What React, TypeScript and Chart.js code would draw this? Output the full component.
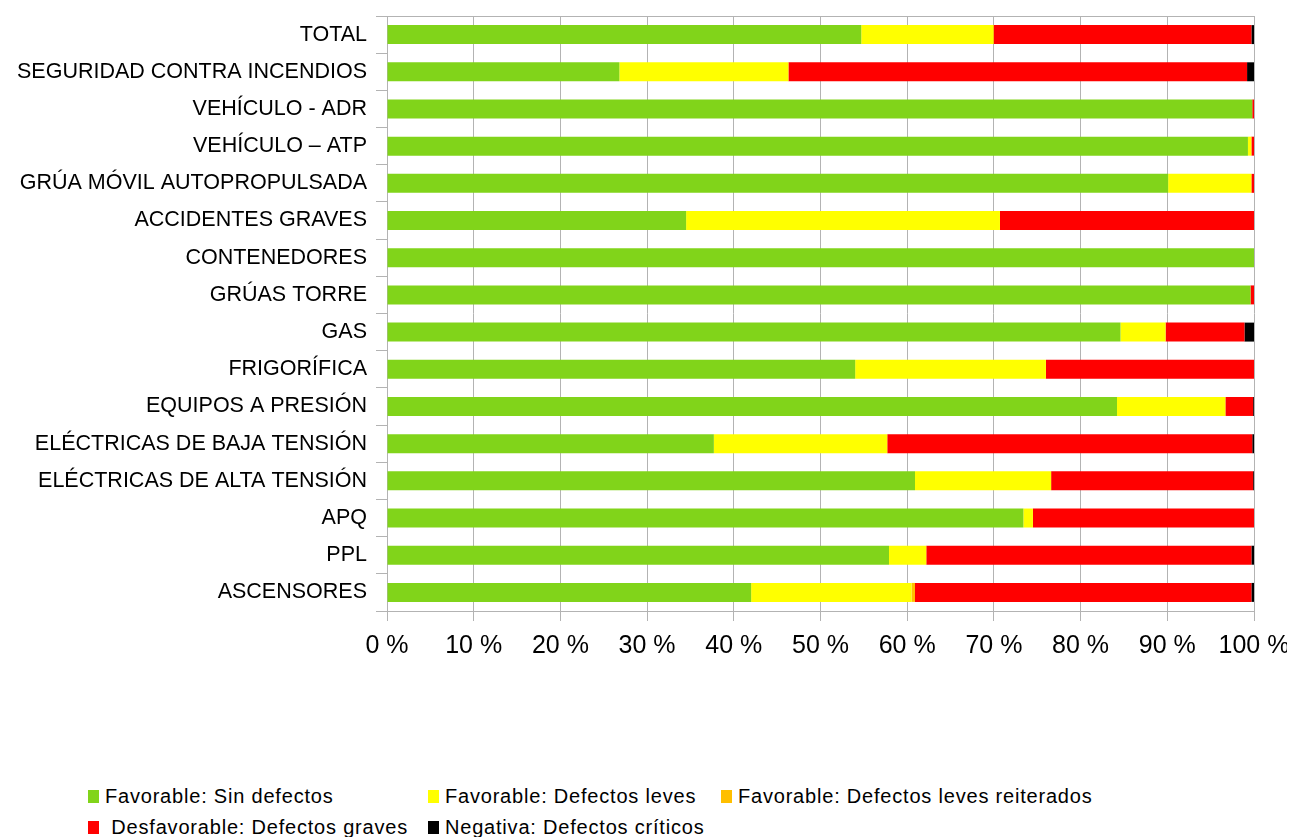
import React, { useEffect, useRef } from "react";
import { Chart, registerables } from "chart.js";

Chart.register(...registerables);

const categories = [
  "TOTAL",
  "SEGURIDAD CONTRA INCENDIOS",
  "VEHÍCULO - ADR",
  "VEHÍCULO – ATP",
  "GRÚA MÓVIL AUTOPROPULSADA",
  "ACCIDENTES GRAVES",
  "CONTENEDORES",
  "GRÚAS TORRE",
  "GAS",
  "FRIGORÍFICA",
  "EQUIPOS A PRESIÓN",
  "ELÉCTRICAS DE BAJA TENSIÓN",
  "ELÉCTRICAS DE ALTA TENSIÓN",
  "APQ",
  "PPL",
  "ASCENSORES",
];

const sinDefectos = [54.7, 26.8, 99.8, 99.3, 90.1, 34.5, 100, 99.6, 84.6, 54.0, 84.2, 37.7, 60.9, 73.4, 57.9, 42.0];
const defectosLeves = [15.2, 19.5, 0, 0.4, 9.6, 36.2, 0, 0, 5.2, 22.0, 12.5, 20.0, 15.7, 1.1, 4.3, 18.5];
const levesReiterados = [0.1, 0, 0, 0, 0, 0, 0, 0, 0, 0, 0, 0, 0, 0, 0, 0.4];
const defectosGraves = [29.7, 52.9, 0.2, 0.3, 0.3, 29.3, 0, 0.4, 9.1, 24.0, 3.2, 42.1, 23.3, 25.5, 37.5, 38.8];
const defectosCriticos = [0.3, 0.8, 0, 0, 0, 0, 0, 0, 1.1, 0, 0.1, 0.2, 0.1, 0, 0.3, 0.3];

const seriesLabels = [
  "Favorable: Sin defectos",
  "Favorable: Defectos leves",
  "Favorable: Defectos leves reiterados",
  " Desfavorable: Defectos graves",
  "Negativa: Defectos críticos",
];
const seriesColors = ["#81d41a", "#ffff00", "#ffbf00", "#ff0000", "#000000"];
const seriesValues = [sinDefectos, defectosLeves, levesReiterados, defectosGraves, defectosCriticos];

const xTickLabels = ["0 %", "10 %", "20 %", "30 %", "40 %", "50 %", "60 %", "70 %", "80 %", "90 %", "100 %"];

const FONT = "'Liberation Sans', Arial, sans-serif";
const GRID = "#b3b3b3";
const legendColumns = [80, 420, 713];

export default function App() {
  const ref = useRef<HTMLCanvasElement | null>(null);

  useEffect(() => {
    document.documentElement.style.overflow = "hidden";
    if (!ref.current) return;
    const chart = new Chart(ref.current, {
      type: "bar",
      data: {
        labels: categories,
        datasets: seriesValues.map((vals, i) => ({
          label: seriesLabels[i],
          data: vals,
          backgroundColor: seriesColors[i],
          borderWidth: 0,
          barPercentage: 0.51,
          categoryPercentage: 1,
        })),
      },
      options: {
        indexAxis: "y",
        responsive: false,
        animation: false,
        devicePixelRatio: 1,
        layout: { padding: { top: 8, right: 41, left: 0, bottom: 0 } },
        plugins: {
          legend: { display: false },
          tooltip: { enabled: false },
        },
        scales: {
          x: {
            stacked: true,
            min: 0,
            max: 100,
            ticks: {
              stepSize: 10,
              autoSkip: false,
              maxRotation: 0,
              padding: 10,
              color: "#000",
              font: { family: FONT, size: 25 },
              callback: (_v: any, i: number) => xTickLabels[i],
            },
            grid: { color: GRID, tickColor: GRID, tickLength: 10, lineWidth: 1 },
            border: { display: true, color: GRID },
            afterFit: (s: any) => {
              s.height = 60;
              s.paddingLeft = 0;
              s.paddingRight = 0;
            },
          },
          y: {
            stacked: true,
            ticks: {
              padding: 9,
              color: "#000",
              font: { family: FONT, size: 21.5 },
            },
            grid: {
              offset: true,
              drawOnChartArea: true,
              color: (ctx: any) =>
                ctx.index === 0 || ctx.index === undefined ? GRID : "rgba(0,0,0,0)",
              tickColor: GRID,
              tickLength: 11,
              lineWidth: 1,
            },
            border: { display: true, color: GRID },
            afterFit: (s: any) => {
              s.width = 379;
              s.paddingTop = 0;
              s.paddingBottom = 0;
            },
          },
        },
      },
    });
    return () => chart.destroy();
  }, []);

  return (
    <div style={{ position: "relative", width: 1287, height: 829 }}>
      <canvas ref={ref} width={1287} height={663} style={{ display: "block" }} />
      {seriesLabels.map((label, i) => {
        const col = i % 3;
        const row = Math.floor(i / 3);
        return (
          <div
            key={i}
            style={{
              position: "absolute",
              left: legendColumns[col],
              top: 778 + row * 31,
              height: 20,
              display: "flex",
              alignItems: "center",
              fontFamily: FONT,
              fontSize: 20,
              letterSpacing: "0.8px",
              color: "#000",
              whiteSpace: "pre",
              lineHeight: "20px",
            }}
          >
            <span
              style={{
                display: "inline-block",
                width: 11,
                height: 13,
                background: seriesColors[i],
                marginRight: 6,
              }}
            />
            <span>{label}</span>
          </div>
        );
      })}
    </div>
  );
}
